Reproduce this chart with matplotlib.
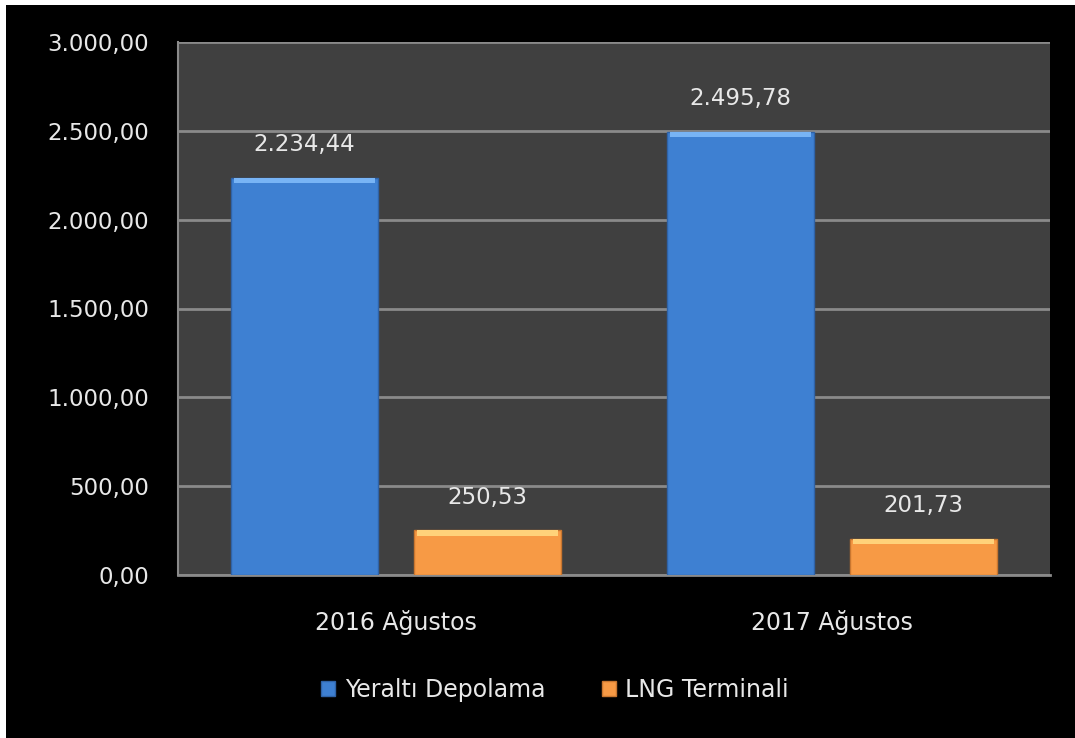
import numpy as np
import matplotlib.pyplot as plt
from matplotlib.patches import Rectangle
from matplotlib.ticker import FuncFormatter

categories = ['2016 Ağustos', '2017 Ağustos']
yeralti = [2234.44, 2495.78]
lng = [250.53, 201.73]
series_names = ['Yeraltı Depolama', 'LNG Terminali']


def tr_fmt(v, pos=None):
    s = f'{v:,.2f}'
    return s.replace(',', 'X').replace('.', ',').replace('X', '.')


fig = plt.figure(figsize=(10.75, 7.38), dpi=100, facecolor='white')
# black chart background (white strip top/left as in the screenshot)
fig.add_artist(Rectangle((6 / 1075, 0), 1, 1 - 5 / 738, transform=fig.transFigure,
                         facecolor='black', edgecolor='none', zorder=-10))

ax = fig.add_axes([178 / 1075, 163 / 738, 872 / 1075, 533 / 738])
ax.set_facecolor('#404040')

x = np.arange(len(categories))
w = 0.337
off = 0.21
blue = '#3e80d2'
orange = '#f79a45'
b1 = ax.bar(x - off, yeralti, w, color=blue, edgecolor='#2f63a8', linewidth=1, zorder=3,
            label=series_names[0])
b2 = ax.bar(x + off, lng, w, color=orange, edgecolor='#c9762f', linewidth=1, zorder=3,
            label=series_names[1])

# light bevel strip on top of each bar
for bars, light in ((b1, '#78b4f5'), (b2, '#ffd27a')):
    for r in bars:
        h = r.get_height()
        ax.bar(r.get_x() + r.get_width() / 2, min(30, h * 0.2), r.get_width() * 0.96,
               bottom=h - min(30, h * 0.2), color=light, linewidth=0, zorder=4)

for bars, vals in ((b1, yeralti), (b2, lng)):
    for r, v in zip(bars, vals):
        ax.annotate(tr_fmt(v), (r.get_x() + r.get_width() / 2, v), xytext=(0, 24),
                    textcoords='offset points', ha='center', va='center',
                    color='#e8e8e8', fontsize=16.5)

ax.set_xlim(-0.5, 1.5)
ax.set_ylim(0, 3000)
ax.set_yticks(np.arange(0, 3001, 500))
ax.yaxis.set_major_formatter(FuncFormatter(tr_fmt))
ax.set_xticks(x)
ax.set_xticklabels(categories)
ax.tick_params(axis='y', length=0, pad=21, labelsize=16.5, colors='#e8e8e8')
ax.tick_params(axis='x', length=0, pad=25, labelsize=17, colors='#e8e8e8')
ax.grid(axis='y', color='#8a8a8a', linewidth=2, zorder=1)
ax.set_axisbelow(True)
for s in ('top', 'right'):
    ax.spines[s].set_visible(False)
ax.spines['left'].set_color('#8a8a8a')
ax.spines['bottom'].set_color('#8a8a8a')
ax.spines['left'].set_linewidth(1.5)
ax.spines['bottom'].set_linewidth(2)

leg = fig.legend(handles=[b1, b2], labels=series_names, loc='center',
                 bbox_to_anchor=(555 / 1075, 1 - 690 / 738), ncol=2, frameon=False,
                 fontsize=17, handlelength=0.6, handleheight=0.6, handletextpad=0.4,
                 columnspacing=2.4)
for t in leg.get_texts():
    t.set_color('#e8e8e8')

fig.savefig('out.png', dpi=100, facecolor=fig.get_facecolor())
